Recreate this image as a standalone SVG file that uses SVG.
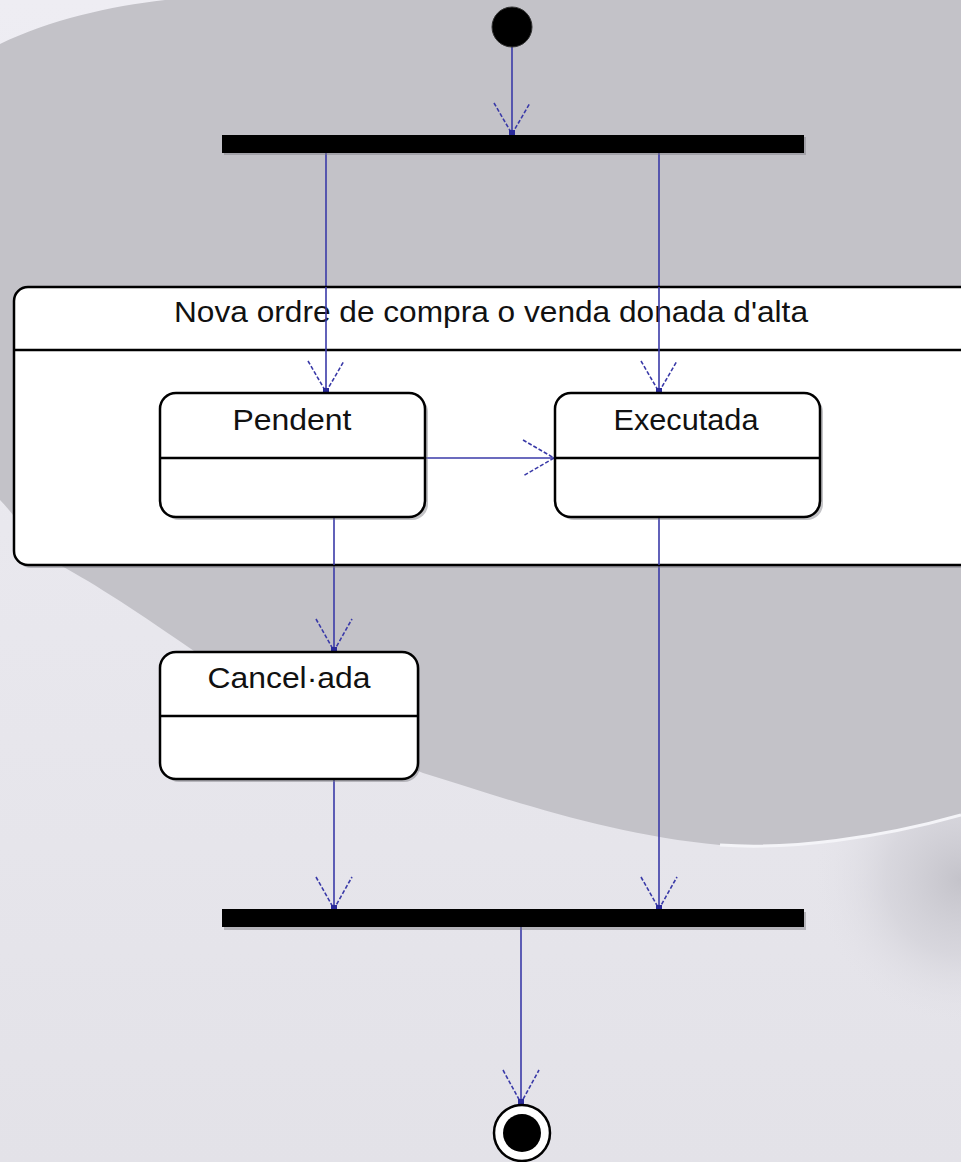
<svg xmlns="http://www.w3.org/2000/svg" width="961" height="1162" viewBox="0 0 961 1162">
  <defs>
    <style>
      .st { fill: #ffffff; stroke: #000000; stroke-width: 2.5; }
      .sh { fill: #7a7a80; opacity: 0.45; }
      .div { stroke: #000000; stroke-width: 2.5; }
      .lbl { font-family: "Liberation Sans", Arial, sans-serif; font-size: 29px; fill: #111111; text-anchor: middle; }
      .conn { stroke: #3a3aa8; stroke-width: 1.6; fill: none; }
      .head { stroke: #3a3aa8; stroke-width: 1.6; fill: none; stroke-dasharray: 4 2; }
      .bar { fill: #000000; }
    </style>
    <linearGradient id="bgLight" x1="0" y1="0" x2="0" y2="1">
      <stop offset="0" stop-color="#eeedf3"/>
      <stop offset="1" stop-color="#e3e2e8"/>
    </linearGradient>
    <radialGradient id="corner" cx="961" cy="880" r="150" gradientUnits="userSpaceOnUse">
      <stop offset="0" stop-color="#c4c3ca"/>
      <stop offset="0.5" stop-color="#d2d1d8" stop-opacity="0.7"/>
      <stop offset="1" stop-color="#e6e5eb" stop-opacity="0"/>
    </radialGradient>
  </defs>

  <!-- background -->
  <rect x="0" y="0" width="961" height="1162" fill="url(#bgLight)"/>
  <rect x="0" y="0" width="961" height="1162" fill="url(#corner)"/>
  <path d="M 0,44 C 50,20 110,6 165,0 L 961,0 L 961,815 C 880,838 790,850 720,845 C 610,835 510,800 423,773 C 330,735 250,690 178,640 C 120,600 80,575 50,560 C 30,540 15,515 0,500 Z" fill="#c3c2c8"/>
  <path d="M 961,815 C 880,838 790,850 720,845" stroke="#f4f4f8" stroke-width="3" fill="none"/>

  <!-- connectors -->
  <g id="connectors">
    <line class="conn" x1="512" y1="47" x2="512" y2="135"/>
    <polyline class="head" points="494,103 512,134 530,103"/>
    <rect x="509" y="130" width="6" height="5" fill="#2a2a9a"/>

    <line class="conn" x1="326" y1="153" x2="326" y2="393"/>
    <polyline class="head" points="308,361 326,392 344,361"/>
    <rect x="323" y="388" width="6" height="5" fill="#2a2a9a"/>

    <line class="conn" x1="659" y1="153" x2="659" y2="393"/>
    <polyline class="head" points="641,361 659,392 677,361"/>
    <rect x="656" y="388" width="6" height="5" fill="#2a2a9a"/>

    <line class="conn" x1="425" y1="458" x2="555" y2="458"/>
    <polyline class="head" points="523,440 554,458 523,476"/>
    <rect x="550" y="455" width="5" height="6" fill="#2a2a9a"/>

    <line class="conn" x1="334" y1="517" x2="334" y2="652"/>
    <polyline class="head" points="316,619 334,651 352,619"/>
    <rect x="331" y="647" width="6" height="5" fill="#2a2a9a"/>

    <line class="conn" x1="334" y1="780" x2="334" y2="910"/>
    <polyline class="head" points="316,877 334,909 352,877"/>
    <rect x="331" y="905" width="6" height="5" fill="#2a2a9a"/>

    <line class="conn" x1="659" y1="517" x2="659" y2="910"/>
    <polyline class="head" points="641,877 659,909 677,877"/>
    <rect x="656" y="905" width="6" height="5" fill="#2a2a9a"/>

    <line class="conn" x1="521" y1="927" x2="521" y2="1104"/>
    <polyline class="head" points="503,1070 521,1103 539,1070"/>
    <rect x="518" y="1099" width="6" height="5" fill="#2a2a9a"/>
  </g>

  <!-- initial node -->
  <g id="initial">
    <circle cx="512" cy="27" r="20" fill="#000000" stroke="#333" stroke-width="1"/>
  </g>

  <!-- fork bar -->
  <g id="fork">
    <rect class="sh" x="224" y="137" width="582" height="18"/>
    <rect class="bar" x="222" y="135" width="582" height="18"/>
  </g>

  <!-- composite state -->
  <g id="composite">
    <rect class="sh" x="17" y="290" width="960" height="278" rx="14"/>
    <rect class="st" x="14" y="287" width="960" height="278" rx="14"/>
    <line class="div" x1="14" y1="350" x2="974" y2="350"/>
    <text class="lbl" x="491" y="322" textLength="634" lengthAdjust="spacingAndGlyphs">Nova ordre de compra o venda donada d'alta</text>
  </g>

  <!-- connector segments drawn over the composite fill -->
  <g id="connectors-inner">
    <line class="conn" x1="326" y1="287" x2="326" y2="393"/>
    <polyline class="head" points="308,361 326,392 344,361"/>
    <rect x="323" y="388" width="6" height="5" fill="#2a2a9a"/>
    <line class="conn" x1="659" y1="287" x2="659" y2="393"/>
    <polyline class="head" points="641,361 659,392 677,361"/>
    <rect x="656" y="388" width="6" height="5" fill="#2a2a9a"/>
    <line class="conn" x1="425" y1="458" x2="555" y2="458"/>
    <polyline class="head" points="523,440 554,458 523,476"/>
    <line class="conn" x1="334" y1="517" x2="334" y2="565"/>
    <line class="conn" x1="659" y1="517" x2="659" y2="565"/>
  </g>

  <!-- Pendent -->
  <g id="pendent">
    <rect class="sh" x="163" y="396" width="265" height="124" rx="16"/>
    <rect class="st" x="160" y="393" width="265" height="124" rx="16"/>
    <line class="div" x1="160" y1="458" x2="425" y2="458"/>
    <text class="lbl" x="292" y="430" textLength="119" lengthAdjust="spacingAndGlyphs">Pendent</text>
  </g>

  <!-- Executada -->
  <g id="executada">
    <rect class="sh" x="558" y="396" width="265" height="124" rx="16"/>
    <rect class="st" x="555" y="393" width="265" height="124" rx="16"/>
    <line class="div" x1="555" y1="458" x2="820" y2="458"/>
    <text class="lbl" x="686" y="430" textLength="145" lengthAdjust="spacingAndGlyphs">Executada</text>
  </g>

  <!-- Cancel·ada -->
  <g id="cancelada">
    <rect class="sh" x="163" y="655" width="257" height="127" rx="16"/>
    <rect class="st" x="160" y="652" width="258" height="127" rx="16"/>
    <line class="div" x1="160" y1="716" x2="418" y2="716"/>
    <text class="lbl" x="289" y="688" textLength="163" lengthAdjust="spacingAndGlyphs">Cancel·ada</text>
  </g>

  <!-- join bar -->
  <g id="join">
    <rect class="sh" x="224" y="912" width="582" height="18"/>
    <rect class="bar" x="222" y="909" width="582" height="18"/>
  </g>

  <!-- final node -->
  <g id="final">
    <circle cx="522" cy="1133" r="28" fill="#ffffff" stroke="#000000" stroke-width="2.5"/>
    <circle cx="522" cy="1133" r="19" fill="#000000"/>
  </g>
</svg>
